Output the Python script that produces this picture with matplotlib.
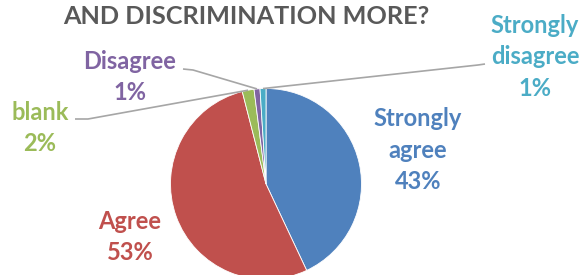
import matplotlib
matplotlib.use("Agg")
import matplotlib.pyplot as plt
import numpy as np

categories = ["Strongly agree", "Agree", "blank", "Disagree", "Strongly disagree"]
values = [43, 53, 2, 1, 1]
colors = ["#4F81BD", "#C0504D", "#9BBB59", "#8064A2", "#4BACC6"]
title = "AND DISCRIMINATION MORE?"

W, H = 583, 275
CX, CY, R = 266, 184, 95.5  # pie centre / radius in pixels

fig = plt.figure(figsize=(W / 100, H / 100), dpi=100)
ax = fig.add_axes([0, 0, 1, 1])

def px(x, y):
    return ((x - CX) / R, (CY - y) / R)

wedges, _ = ax.pie(values, colors=colors, startangle=90, counterclock=False,
                   radius=1, center=(0, 0),
                   wedgeprops=dict(edgecolor="white", linewidth=0.6))
ax.set_xlim(-CX / R, (W - CX) / R)
ax.set_ylim(-(H - CY) / R, CY / R)
ax.set_aspect("equal")
ax.axis("off")

font = dict(family=["Lato", "DejaVu Sans"], fontweight="bold", fontsize=17)

layout = {
    "Strongly agree": dict(pos=(418, 150), line=None),
    "Agree": dict(pos=(130, 237), line=None),
    "blank": dict(pos=(40, 128), line=[(75, 119), (88, 119)]),
    "Disagree": dict(pos=(130, 77), line=[(183, 69), (193, 70)]),
    "Strongly disagree": dict(pos=(535, 57), line=[(485, 64), (478, 65)]),
}

for cat, val, col, w in zip(categories, values, colors, wedges):
    lay = layout[cat]
    if cat == "Strongly disagree":
        txt = "Strongly\ndisagree\n%d%%" % val
    elif cat == "Strongly agree":
        txt = "Strongly\nagree\n%d%%" % val
    else:
        txt = "%s\n%d%%" % (cat, val)
    x, y = px(*lay["pos"])
    ax.text(x, y, txt, color=col, ha="center", va="center",
            linespacing=1.44, **font)
    if lay["line"] is not None:
        mid = np.deg2rad((w.theta1 + w.theta2) / 2)
        pts = [px(*p) for p in lay["line"]] + [(np.cos(mid), np.sin(mid))]
        xs, ys = zip(*pts)
        ax.plot(xs, ys, color="#A6A6A6", lw=1.2, solid_capstyle="butt")

tx, ty = px(246, 16)
ax.text(tx, ty, title, color="#595959", ha="center", va="center",
        family=["Lato", "DejaVu Sans"], fontweight="bold", fontsize=18.2)

fig.savefig("out.png", dpi=100)
